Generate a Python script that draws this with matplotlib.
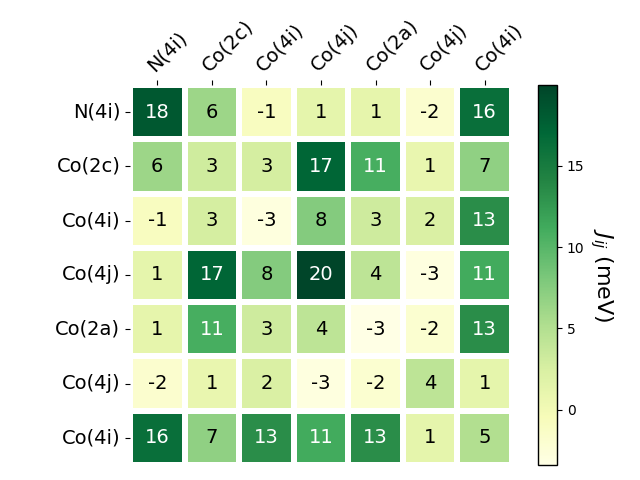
import numpy as np
import matplotlib
matplotlib.use("Agg")
import matplotlib.pyplot as plt
import seaborn as sns

# site labels
labels = ["N(4i)", "Co(2c)", "Co(4i)", "Co(4j)", "Co(2a)", "Co(4j)", "Co(4i)"]

# exchange couplings J_ij in meV
row_n4i = [18.4, 6.2, -0.9, 1.3, 1.2, -1.8, 16.3]
row_co2c = [6.2, 3.1, 2.8, 17.2, 10.9, 0.9, 7.0]
row_co4i = [-0.9, 2.8, -2.9, 7.6, 3.2, 2.4, 13.4]
row_co4j = [1.3, 17.2, 7.6, 19.97, 4.3, -3.0, 11.2]
row_co2a = [1.2, 10.9, 3.2, 4.3, -3.4, -2.0, 13.4]
row_co4j_b = [-1.8, 0.9, 2.4, -3.0, -2.0, 4.3, 1.3]
row_co4i_b = [16.3, 7.0, 13.4, 11.2, 13.4, 1.3, 5.0]

J = np.array([row_n4i, row_co2c, row_co4i, row_co4j,
              row_co2a, row_co4j_b, row_co4i_b])

fig = plt.figure(figsize=(6.4, 4.8))
ax = fig.add_axes([130 / 640, 15 / 480, 382 / 640, 380 / 480])
cax = fig.add_axes([538 / 640, 15 / 480, 19 / 640, 380 / 480])

sns.heatmap(J, ax=ax, cbar_ax=cax, cmap="YlGn", annot=True, fmt=".0f",
            annot_kws={"fontsize": 14}, linewidths=3, linecolor="white",
            xticklabels=labels, yticklabels=labels)

# dark annotations in plain black, keep the white ones
for t in ax.texts:
    if t.get_color() != "w":
        t.set_color("black")

ax.xaxis.tick_top()
ax.set_xticklabels(labels, rotation=45, ha="left", rotation_mode="anchor",
                   fontsize=14)
ax.set_yticklabels(labels, rotation=0, fontsize=14)

cbar = ax.collections[0].colorbar
cbar.set_ticks([0, 5, 10, 15])
cbar.set_label("$J_{ij}$ (meV)", rotation=270, fontsize=16, labelpad=22)
cbar.outline.set_visible(True)
cbar.outline.set_edgecolor("black")
cbar.outline.set_linewidth(1)

fig.savefig("out.png", dpi=100)
